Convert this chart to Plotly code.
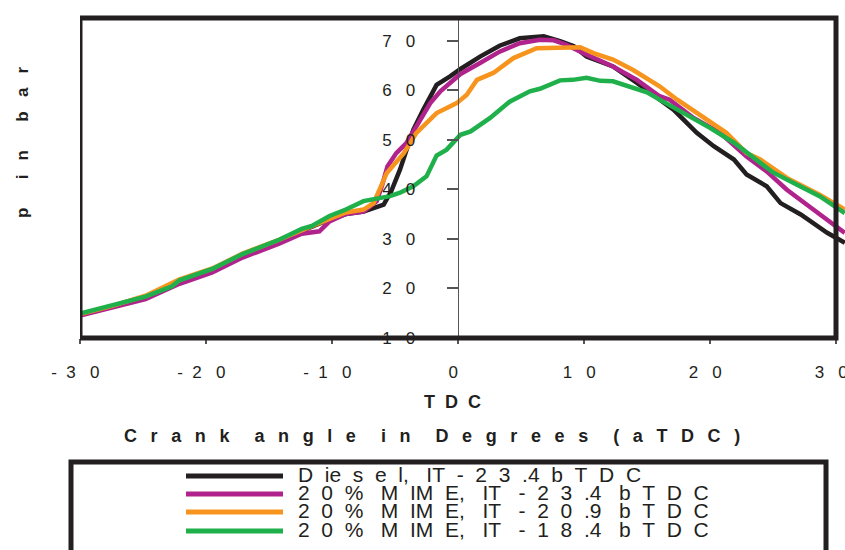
import plotly.graph_objects as go

# ---------------- data ----------------
x_diesel = [-30, -27.5, -24.8, -22.1, -19.5, -17.1, -14.2, -12.4, -10.2, -8.9, -7.5, -5.9, -5.3, -4.6,
            -3.9, -3.55, -2.75, -1.7, -0.63, 0.2, 1.75, 3.3, 4.9, 6.8, 8.1, 9.2, 10.2, 12.3, 14.2, 16.0,
            17.1, 18.95, 20.3, 21.9, 22.9, 24.5, 25.6, 27.2, 29.3, 30.7]
y_diesel = [14.7, 16.2, 18.0, 21.3, 23.6, 26.6, 29.4, 31.6, 33.9, 35.0, 35.5, 36.9, 39.6, 44.0,
            49.3, 52.0, 56.1, 61.1, 62.8, 64.3, 66.8, 69.0, 70.5, 70.9, 69.9, 68.9, 66.8, 64.8, 61.5, 58.1,
            56.1, 51.4, 48.7, 46.0, 43.0, 40.6, 37.2, 34.9, 31.2, 29.2]

x_mime234 = [-30, -27.5, -24.8, -22.1, -19.5, -17.1, -14.2, -12.4, -11.0, -10.2, -8.9, -7.5, -6.45, -6.0,
             -5.6, -4.9, -4.1, -3.3, -2.2, -1.4, 0.2, 1.75, 3.3, 4.9, 6.5, 7.6, 8.6, 10.2, 12.3, 14.2,
             16.0, 16.8, 18.7, 20.8, 22.9, 24.5, 26.1, 28.2, 30.7]
y_mime234 = [14.5, 16.0, 17.8, 20.9, 23.2, 26.2, 29.0, 31.0, 31.5, 33.5, 35.0, 35.5, 37.6, 41.0,
             44.6, 47.3, 49.3, 52.7, 57.4, 59.8, 63.3, 65.5, 67.8, 69.5, 70.2, 70.1, 69.2, 67.2, 64.8, 62.1,
             58.8, 58.1, 54.4, 51.4, 46.6, 43.6, 39.9, 35.9, 31.2]

x_mime209 = [-30, -27.5, -24.8, -22.1, -19.5, -17.1, -14.2, -12.4, -10.2, -8.9, -7.5, -6.7, -5.65, -4.3,
             -3.3, -1.7, -0.1, 0.7, 1.5, 2.8, 4.4, 6.25, 8.1, 9.7, 10.75, 12.3, 13.9, 16.0, 17.4, 20.0,
             21.3, 22.9, 24.0, 26.1, 28.7, 30.7]
y_mime209 = [14.8, 16.4, 18.5, 21.8, 24.0, 27.0, 29.8, 31.8, 34.0, 35.3, 35.9, 37.2, 43.3, 47.3,
             51.4, 55.4, 57.4, 59.1, 62.1, 63.5, 66.5, 68.5, 68.7, 68.7, 67.5, 66.2, 64.1, 60.8, 58.1, 53.7,
             51.4, 47.3, 46.0, 42.3, 38.9, 35.9]

x_mime184 = [-30, -27.5, -24.8, -22.7, -22.1, -19.5, -17.1, -14.2, -12.4, -11.6, -10.2, -8.9, -7.5, -5.4,
             -4.6, -3.55, -2.5, -1.7, -0.9, 0.2, 1.0, 2.55, 4.1, 5.7, 6.5, 8.1, 9.1, 10.2, 11.3, 12.3,
             13.9, 15.0, 16.0, 18.2, 20.0, 21.9, 23.2, 25.0, 26.6, 28.7, 30.7]
y_mime184 = [14.9, 16.5, 18.3, 20.4, 21.6, 23.9, 26.9, 29.8, 32.0, 32.6, 34.6, 35.9, 37.6, 38.6,
             39.3, 40.6, 42.6, 46.8, 48.0, 51.0, 51.7, 54.4, 57.7, 59.8, 60.3, 62.0, 62.1, 62.5, 61.9, 61.8,
             60.5, 59.6, 58.1, 55.1, 52.4, 49.4, 46.8, 43.4, 41.3, 38.6, 35.2]

series_names = [
    "D ie s e l,  IT - 2 3 .4 b T D C",
    "2 0 %  M IM E,  IT  - 2 3 .4  b T D C",
    "2 0 %  M IM E,  IT  - 2 0 .9  b T D C",
    "2 0 %  M IM E,  IT  - 1 8 .4  b T D C",
]
series_colors = ["#231f20", "#b1238c", "#f7941d", "#1fb04b"]
series_x = [x_diesel, x_mime234, x_mime209, x_mime184]
series_y = [y_diesel, y_mime234, y_mime209, y_mime184]

x_ticks = [-30, -20, -10, 0, 10, 20, 30]
y_ticks = [10, 20, 30, 40, 50, 60, 70]

x_title_1 = "TDC"
x_title_2 = "Crank angle in Degrees (aTDC)"
y_title = "p in bar"

NB = "\u00a0"
THIN = "\u2009"


def spaced(s, gap=NB * 2, word_gap=NB * 4):
    words = s.split(" ")
    return word_gap.join(gap.join(list(w)) for w in words)


def x_label(v):
    s = str(abs(v))
    core = (NB * 3).join(list(s))
    if v < 0:
        core = "-" + NB * 2 + core
    return core + NB * 2


def y_label(v):
    return (NB * 3).join(list(str(v))) + NB * 6


def legend_text(s):
    return s.replace("  ", NB * 3).replace(" ", NB * 2)


# ---------------- geometry ----------------
W, H = 845, 550
L, R, T, B = 80, 0, 18, 212
plot_w = W - L - R
plot_h = H - T - B
x_min, x_max = -30, 30 + 9 / 12.6
y_min, y_max = 9.95, 74.6

FONT = "Liberation Sans, Arial, sans-serif"
INK = "#231f20"


def px_to_paper_x(px):
    return (px - L) / plot_w


def px_to_paper_y(py):
    return (H - B - py) / plot_h


fig = go.Figure()
for xs, ys, c in zip(series_x, series_y, series_colors):
    fig.add_trace(go.Scatter(x=xs, y=ys, mode="lines",
                             line=dict(color=c, width=4.5), showlegend=False,
                             hoverinfo="skip"))

# frame around the -30..30 region
fig.add_shape(type="rect", xref="x", yref="paper", x0=-30, x1=30, y0=0, y1=1,
              line=dict(color=INK, width=5), layer="above")

# legend (drawn manually to match the reference box)
fig.add_shape(type="rect", xref="paper", yref="paper",
              x0=px_to_paper_x(71), x1=px_to_paper_x(826),
              y0=px_to_paper_y(600), y1=px_to_paper_y(462),
              line=dict(color=INK, width=5), fillcolor="white")
rows_px = [476, 494, 512, 531]
for name, c, ry in zip(series_names, series_colors, rows_px):
    fig.add_shape(type="line", xref="paper", yref="paper",
                  x0=px_to_paper_x(186), x1=px_to_paper_x(283),
                  y0=px_to_paper_y(ry), y1=px_to_paper_y(ry),
                  line=dict(color=c, width=5))
    fig.add_annotation(xref="paper", yref="paper", x=px_to_paper_x(296),
                       y=px_to_paper_y(ry - 2), xanchor="left", yanchor="middle",
                       text=legend_text(name), showarrow=False,
                       font=dict(family=FONT, size=21, color=INK))

# axis titles
fig.add_annotation(xref="paper", yref="paper", x=px_to_paper_x(452), y=px_to_paper_y(402),
                   text="<b>" + spaced(x_title_1) + "</b>", showarrow=False,
                   xanchor="center", yanchor="middle",
                   font=dict(family=FONT, size=18, color=INK))
fig.add_annotation(xref="paper", yref="paper", x=px_to_paper_x(432), y=px_to_paper_y(436),
                   text="<b>" + spaced(x_title_2, gap=NB * 2 + THIN, word_gap=NB * 5) + "</b>",
                   showarrow=False, xanchor="center", yanchor="middle",
                   font=dict(family=FONT, size=18, color=INK))
fig.add_annotation(xref="paper", yref="paper", x=px_to_paper_x(22), y=px_to_paper_y(142),
                   text="<b>" + spaced(y_title, gap=NB * 3, word_gap=NB * 6) + "</b>",
                   showarrow=False, textangle=-90,
                   xanchor="center", yanchor="middle",
                   font=dict(family=FONT, size=17, color=INK))

fig.update_layout(
    width=W, height=H,
    margin=dict(l=L, r=R, t=T, b=B, pad=0, autoexpand=False),
    paper_bgcolor="white", plot_bgcolor="white",
    showlegend=False,
    xaxis=dict(range=[x_min, x_max], showgrid=False, zeroline=False, showline=False,
               automargin=False,
               ticks="outside", ticklen=5, tickwidth=1.5, tickcolor="#555",
               tickvals=x_ticks, ticktext=[x_label(v) for v in x_ticks],
               ticklabeloverflow="allow",
               tickfont=dict(family=FONT, size=17, color=INK), ticklabelstandoff=14),
    yaxis=dict(range=[y_min, y_max], showgrid=False, zeroline=False,
               automargin=False,
               anchor="free", position=(0 - x_min) / (x_max - x_min), side="left",
               showline=True, linecolor="#555", linewidth=1,
               ticks="outside", ticklen=11, tickwidth=1.5, tickcolor="#555",
               tickvals=y_ticks, ticktext=[y_label(v) for v in y_ticks],
               ticklabeloverflow="allow",
               tickfont=dict(family=FONT, size=17, color=INK)),
)

fig.write_html("out.html")
